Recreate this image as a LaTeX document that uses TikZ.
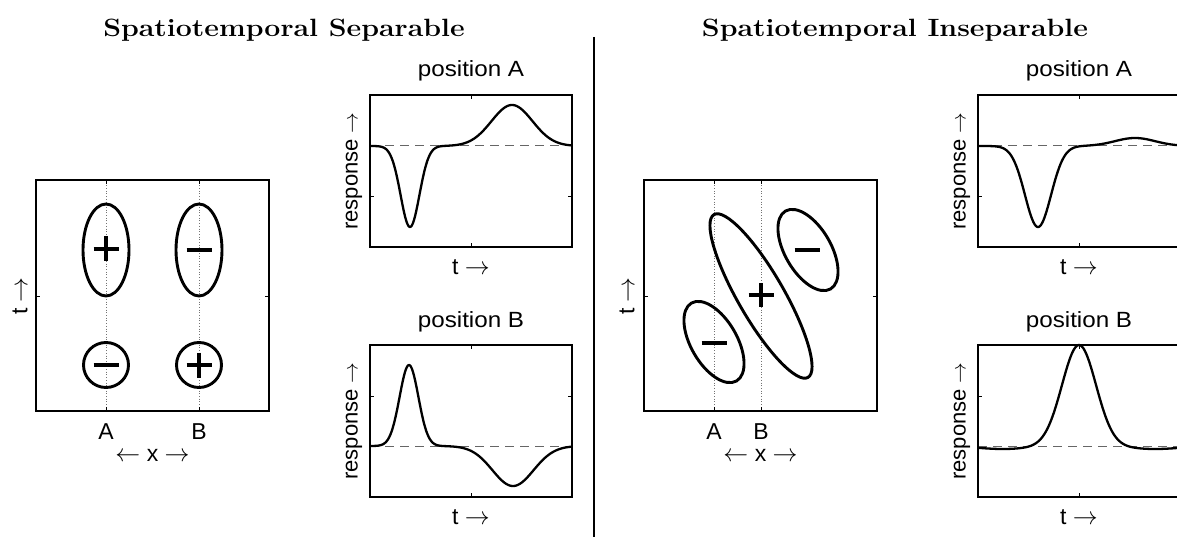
\documentclass[tikz,border=0pt]{standalone}
\usepackage{graphicx}
\usepackage{fontspec}
\setsansfont{Liberation Sans}
\begin{document}
\begin{tikzpicture}[x=1pt,y=-1pt,
  frame/.style={line width=1.4pt},
  tickmark/.style={line width=0.9pt},
  blob/.style={line width=2.9pt},
  sign/.style={line width=3.5pt},
  curve/.style={line width=2.3pt, line join=round},
  zeroline/.style={line width=1pt, dash pattern=on 9pt off 6pt, black!60},
  gridline/.style={line width=0.7pt, dotted, black!55},
  lab/.style={font=\sffamily\fontsize{22}{24}\selectfont, inner sep=0pt},
  axlab/.style={font=\sffamily\fontsize{23}{25}\selectfont, inner sep=0pt},
  ticklab/.style={font=\sffamily\fontsize{23}{25}\selectfont, inner sep=0pt, anchor=base},
  ttl/.style={font=\bfseries\fontsize{25}{30}\selectfont, inner sep=0pt, anchor=base}
]
\useasboundingbox (0,0) rectangle (1177,537);

% titles and divider
\node[ttl] (ttlL) at (284,37) {\scalebox{1.14}[1]{Spatiotemporal Separable}};
\node[ttl] (ttlR) at (895,37) {\scalebox{1.14}[1]{Spatiotemporal Inseparable}};
\draw[line width=1.2pt] (594,37) -- (594,537);

% ---------- left panel (separable) ----------
\draw[gridline] (106,180) -- (106,411) (199,180) -- (199,411);
\draw[frame] (36,180) rectangle (269,411);
\draw[tickmark] (36,296) -- (40,296) (269,296) -- (265,296)
  (106,180) -- (106,184) (106,411) -- (106,407)
  (199,180) -- (199,184) (199,411) -- (199,407);
\draw[blob] (106,250) ellipse [x radius=23, y radius=46];
\draw[blob] (199,250) ellipse [x radius=23, y radius=46];
\draw[blob] (106,365) circle [radius=22.5];
\draw[blob] (199,365) circle [radius=22.5];
\draw[sign] (93.5,249) -- (118.5,249) (106,236.5) -- (106,261.5);
\draw[sign] (186.5,250) -- (211.5,250);
\draw[sign] (93.5,365) -- (118.5,365);
\draw[sign] (186.5,365) -- (211.5,365) (199,352.5) -- (199,377.5);
\node[ticklab] (lA) at (106,439) {A};
\node[ticklab] (lB) at (199,439) {B};
\node[axlab] (lx) at (152.5,455) {$\leftarrow$ x $\rightarrow$};
\node[axlab, rotate=90] (lt) at (20,296) {t $\rightarrow$};

% ---------- left plot A ----------
\node[lab, anchor=base] (pA1) at (471,77) {\scalebox{1.1}[1]{position A}};
\draw[zeroline] (370,146) -- (572,146);
\draw[curve] plot[domain=370:572, samples=180]
  (\x, {146+81*exp(-0.5*((\x-410)/9.4)^2)-41*exp(-0.5*((\x-512)/20.5)^2)});
\draw[frame] (370,95) rectangle (572,247);
\draw[tickmark] (370,196) -- (374,196) (572,196) -- (568,196)
  (471,95) -- (471,99) (471,247) -- (471,243);
\node[lab, rotate=90] (r1) at (354,171) {response $\rightarrow$};
\node[axlab, anchor=base] (t1) at (471,274) {t $\rightarrow$};

% ---------- left plot B ----------
\node[lab, anchor=base] (pB1) at (471,327) {\scalebox{1.1}[1]{position B}};
\draw[zeroline] (370,446) -- (572,446);
\draw[curve] plot[domain=370:572, samples=180]
  (\x, {446-81*exp(-0.5*((\x-409)/9.4)^2)+40*exp(-0.5*((\x-513)/20.5)^2)});
\draw[frame] (370,345) rectangle (572,497);
\draw[tickmark] (370,396) -- (374,396) (572,396) -- (568,396)
  (471,345) -- (471,349) (471,497) -- (471,493);
\node[lab, rotate=90] (r2) at (354,421) {response $\rightarrow$};
\node[axlab, anchor=base] (t2) at (471,524) {t $\rightarrow$};

% ---------- right panel (inseparable) ----------
\draw[gridline] (714,180) -- (714,411) (761,180) -- (761,411);
\draw[frame] (644,180) rectangle (877,411);
\draw[tickmark] (644,296) -- (648,296) (877,296) -- (873,296)
  (714,180) -- (714,184) (714,411) -- (714,407)
  (761,180) -- (761,184) (761,411) -- (761,407);
\draw[blob, rotate around={30:(761,296)}] (761,296) ellipse [x radius=23, y radius=94];
\draw[blob, rotate around={30:(714,342)}] (714,342) ellipse [x radius=23, y radius=45];
\draw[blob, rotate around={30:(808,250)}] (808,250) ellipse [x radius=23, y radius=45];
\draw[sign] (748.5,295) -- (773.5,295) (761,283) -- (761,307);
\draw[sign] (701.5,343) -- (726.5,343);
\draw[sign] (794.5,250) -- (819.5,250);
\node[ticklab] (rA) at (714,439) {A};
\node[ticklab] (rB) at (761,439) {B};
\node[axlab] (rx) at (760.5,455) {$\leftarrow$ x $\rightarrow$};
\node[axlab, rotate=90] (rt) at (627,296) {t $\rightarrow$};

% ---------- right plot A ----------
\node[lab, anchor=base] (pA2) at (1079,77) {\scalebox{1.1}[1]{position A}};
\draw[zeroline] (978,146) -- (1180,146);
\draw[curve] plot[domain=978:1180, samples=180]
  (\x, {146+81*exp(-0.5*((\x-1038)/13)^2)-8*exp(-0.5*((\x-1135)/20)^2)});
\draw[frame] (978,95) rectangle (1180,247);
\draw[tickmark] (978,196) -- (982,196)
  (1079,95) -- (1079,99) (1079,247) -- (1079,243);
\node[lab, rotate=90] (r3) at (962,171) {response $\rightarrow$};
\node[axlab, anchor=base] (t3) at (1079,274) {t $\rightarrow$};

% ---------- right plot B ----------
\node[lab, anchor=base] (pB2) at (1079,327) {\scalebox{1.1}[1]{position B}};
\draw[zeroline] (978,446) -- (1180,446);
\draw[curve] plot[domain=978:1180, samples=180]
  (\x, {446-101*exp(-0.5*((\x-1079)/17)^2)+3*exp(-0.5*((\x-1003)/25)^2)+3*exp(-0.5*((\x-1155)/25)^2)});
\draw[frame] (978,345) rectangle (1180,497);
\draw[tickmark] (978,396) -- (982,396)
  (1079,345) -- (1079,349) (1079,497) -- (1079,493);
\node[lab, rotate=90] (r4) at (962,421) {response $\rightarrow$};
\node[axlab, anchor=base] (t4) at (1079,524) {t $\rightarrow$};
\end{tikzpicture}
\end{document}
